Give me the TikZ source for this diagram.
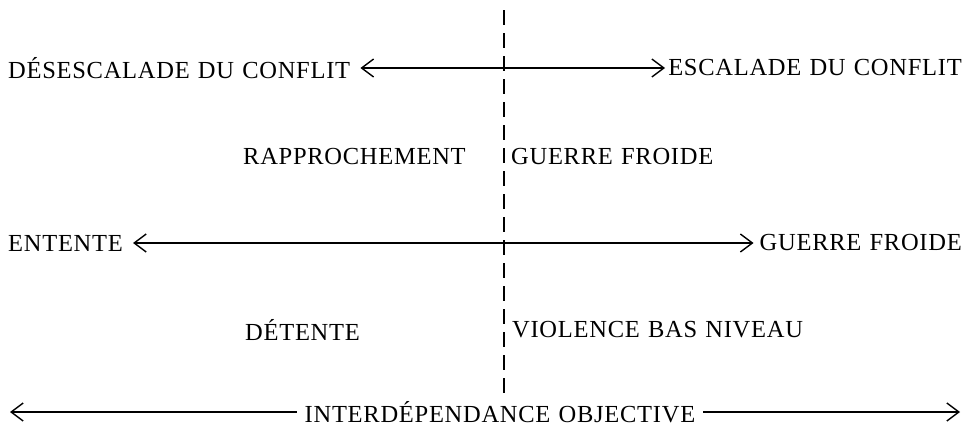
\documentclass[tikz,border=0pt]{standalone}
\usepackage{fontspec}
\setmainfont{Liberation Serif}[LetterSpace=3,WordSpace=1.2]
\usetikzlibrary{arrows.meta}
\begin{document}
\begin{tikzpicture}[x=1pt,y=-1pt,
  lbl/.style={inner sep=0pt,font=\fontsize{24.5}{28}\selectfont},
  arr/.style={line width=1.2pt,{Straight Barb[length=12pt,width=18pt,line width=1.4pt]}-{Straight Barb[length=12pt,width=18pt,line width=1.4pt]}},
  single/.style={line width=1.2pt,-{Straight Barb[length=12pt,width=18pt,line width=1.4pt]}},
  divider/.style={line width=1.8pt,dash pattern=on 15pt off 8pt}]
\useasboundingbox (0,0) rectangle (967,434);
\draw[divider] (504,10) -- (504,398);
\node[lbl,anchor=west] (desc) at (8,68) {DÉSESCALADE DU CONFLIT};
\node[lbl,anchor=east] (esc) at (962,68) {ESCALADE DU CONFLIT};
\draw[arr] ([xshift=10pt]desc.east) -- ([xshift=-3pt]esc.west);
\node[lbl,anchor=west] (rapp) at (243,157) {RAPPROCHEMENT};
\node[lbl,anchor=west] (gf1) at (511,157) {GUERRE FROIDE};
\node[lbl,anchor=west] (ent) at (8,243) {ENTENTE};
\node[lbl,anchor=east] (gf2) at (962,243) {GUERRE FROIDE};
\draw[arr] ([xshift=10pt]ent.east) -- ([xshift=-6pt]gf2.west);
\node[lbl,anchor=west] (det) at (245,330) {DÉTENTE};
\node[lbl,anchor=west] (viol) at (512,330) {VIOLENCE BAS NIVEAU};
\node[lbl] (inter) at (500,412) {INTERDÉPENDANCE OBJECTIVE};
\coordinate (lend) at (10,412);
\coordinate (rend) at (960,412);
\draw[single] ([xshift=-8pt]inter.west) -- (lend);
\draw[single] ([xshift=8pt]inter.east) -- (rend);
\end{tikzpicture}
\end{document}
